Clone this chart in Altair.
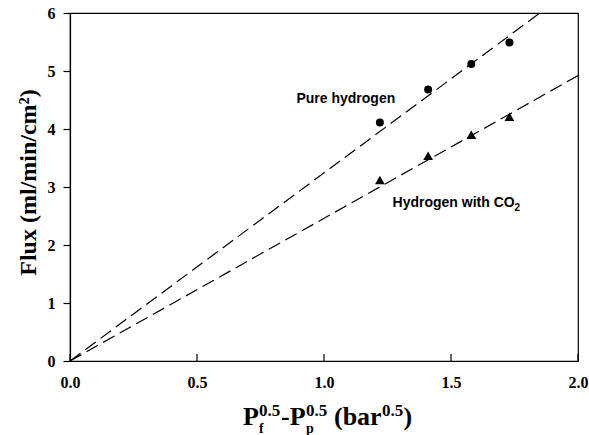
import altair as alt
import pandas as pd

# ---- data ----
drive_x = [1.22, 1.41, 1.58, 1.73]          # Pf^0.5 - Pp^0.5 (bar^0.5)
flux_pure = [4.11, 4.68, 5.12, 5.49]        # Pure hydrogen
flux_co2 = [3.12, 3.54, 3.90, 4.21]         # Hydrogen with CO2

fit_pure_x = [0.0, 1.85]
fit_pure_y = [0.0, 6.0]
fit_co2_x = [0.0, 2.0]
fit_co2_y = [0.0, 4.92]

x_ticks = [0.0, 0.5, 1.0, 1.5, 2.0]
y_ticks = [0, 1, 2, 3, 4, 5, 6]

W, H = 508, 348
SERIF = "Liberation Serif"
SANS = "Liberation Sans"

xs = alt.Scale(domain=[0, 2], nice=False, zero=False)
ys = alt.Scale(domain=[0, 6], nice=False, zero=False)

pts_pure = pd.DataFrame({"x": drive_x, "y": flux_pure})
pts_co2 = pd.DataFrame({"x": drive_x, "y": flux_co2})
fit_pure = pd.DataFrame({"x": fit_pure_x, "y": fit_pure_y})
fit_co2 = pd.DataFrame({"x": fit_co2_x, "y": fit_co2_y})

xaxis = alt.Axis(values=x_ticks, format=".1f", ticks=False, tickSize=0, labelPadding=13,
                 labelFont=SERIF, labelFontSize=16, labelFontWeight="bold", labelColor="black",
                 domainColor="black", domainWidth=1.2, grid=False, title=None, labelFlush=False)
yaxis = alt.Axis(values=y_ticks, format="d", tickSize=7, tickColor="black", tickWidth=1.2,
                 labelPadding=8, labelFont=SERIF, labelFontSize=16, labelFontWeight="bold",
                 labelColor="black", domainColor="black", domainWidth=1.2, grid=False,
                 title="Flux (ml/min/cm²)", titleFont=SERIF, titleFontSize=24,
                 titleFontWeight="bold", titleColor="black", titleX=-35, titleY=169,
                 titleBaseline="alphabetic", titleAlign="center", titleAngle=-90, labelFlush=False)

base_pure = alt.Chart(fit_pure).mark_line(color="black", strokeWidth=1.2, strokeDash=[13, 6]).encode(
    x=alt.X("x:Q", scale=xs, axis=xaxis), y=alt.Y("y:Q", scale=ys, axis=yaxis))
line_co2 = alt.Chart(fit_co2).mark_line(color="black", strokeWidth=1.2, strokeDash=[13, 6]).encode(
    x=alt.X("x:Q", scale=xs), y=alt.Y("y:Q", scale=ys))

circ = alt.Chart(pts_pure).mark_point(shape="circle", filled=True, color="black", size=64, opacity=1).encode(
    x=alt.X("x:Q", scale=xs), y=alt.Y("y:Q", scale=ys))
tri = alt.Chart(pts_co2).mark_point(shape="triangle-up", filled=True, color="black", size=95, opacity=1).encode(
    x=alt.X("x:Q", scale=xs), y=alt.Y("y:Q", scale=ys))

# inward x ticks
tick_df = pd.DataFrame({"x": x_ticks})
xticks = alt.Chart(tick_df).mark_rule(color="black", strokeWidth=1.2).encode(
    x=alt.X("x:Q", scale=xs), y=alt.value(H), y2=alt.value(H - 7))

# annotations
ann_pure = alt.Chart(pd.DataFrame({"x": [1.086], "y": [4.52], "t": ["Pure hydrogen"]})).mark_text(
    font=SANS, fontSize=14, fontWeight="bold", color="black", align="center", baseline="middle").encode(
    x=alt.X("x:Q", scale=xs), y=alt.Y("y:Q", scale=ys), text="t:N")
ann_co2 = alt.Chart(pd.DataFrame({"x": [1.27], "y": [2.72], "t": ["Hydrogen with CO"]})).mark_text(
    font=SANS, fontSize=14, fontWeight="bold", color="black", align="left", baseline="middle").encode(
    x=alt.X("x:Q", scale=xs), y=alt.Y("y:Q", scale=ys), text="t:N")
ann_co2_sub = alt.Chart(pd.DataFrame({"x": [1.27], "y": [2.72], "t": ["2"]})).mark_text(
    font=SANS, fontSize=10, fontWeight="bold", color="black", align="left", baseline="middle",
    dx=122, dy=5).encode(
    x=alt.X("x:Q", scale=xs), y=alt.Y("y:Q", scale=ys), text="t:N")

# x-axis title built from pieces (superscripts / subscripts)
def piece(txt, px, py, size):
    return alt.Chart(pd.DataFrame({"t": [txt]})).mark_text(
        font=SERIF, fontSize=size, fontWeight="bold", color="black", align="left",
        baseline="alphabetic").encode(x=alt.value(px), y=alt.value(py), text="t:N")

MAIN, SUP, SUB = 26, 17, 14
by, sy, uy = 412, 403, 420
title_parts = [
    piece("P", 173, by, MAIN),
    piece("f", 189, uy, SUB),
    piece("0.5", 189, sy, SUP),
    piece("-P", 211, by, MAIN),
    piece("p", 236, uy, SUB),
    piece("0.5", 236, sy, SUP),
    piece("(bar", 264, by, MAIN),
    piece("0.5", 312, sy, SUP),
    piece(")", 333.5, by, MAIN),
]

chart = alt.layer(base_pure, line_co2, circ, tri, xticks, ann_pure, ann_co2, ann_co2_sub,
                  *title_parts).properties(
    width=W, height=H,
    autosize=alt.AutoSizeParams(type="none"),
    padding={"left": 70, "top": 13, "right": 11, "bottom": 74},
    background="white",
).configure_view(stroke="black", strokeWidth=1.2)

chart.save("out.html", embed_options={"renderer": "svg", "actions": False})
